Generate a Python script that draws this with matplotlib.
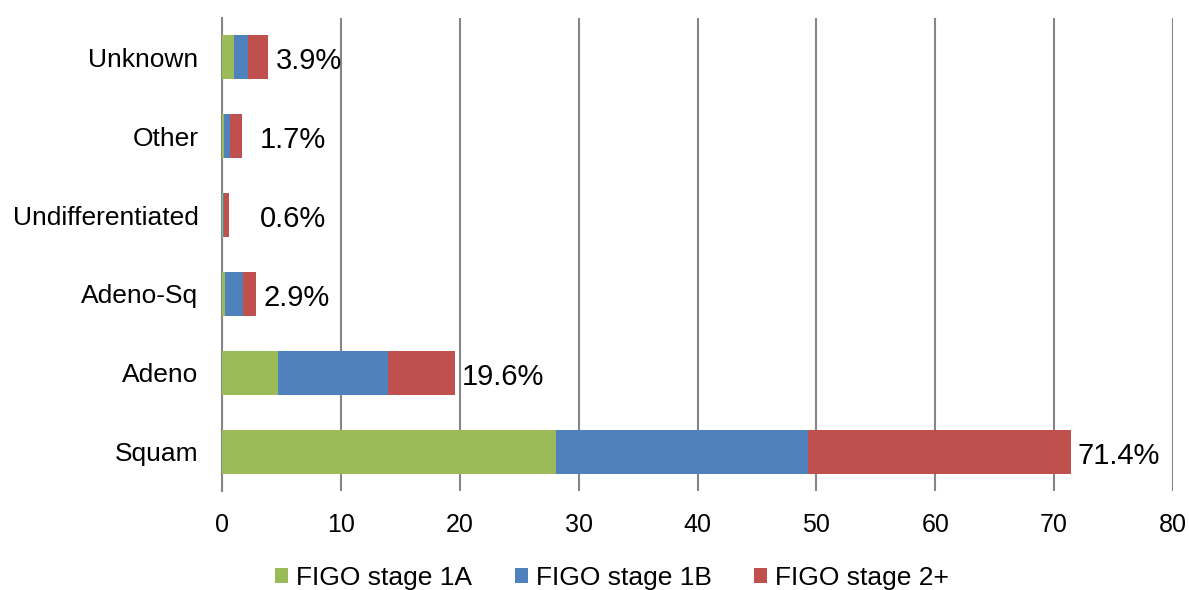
import matplotlib

matplotlib.use("Agg")
import matplotlib.pyplot as plt
import numpy as np

plt.rcParams["font.family"] = ["Liberation Sans", "DejaVu Sans"]

# histology groups, bottom to top
categories = ["Squam", "Adeno", "Adeno-Sq", "Undifferentiated", "Other", "Unknown"]
stage_1a = [28.1, 4.7, 0.25, 0.05, 0.2, 1.0]
stage_1b = [21.2, 9.3, 1.55, 0.15, 0.5, 1.2]
stage_2p = [22.1, 5.6, 1.1, 0.4, 1.0, 1.7]
totals = [71.4, 19.6, 2.9, 0.6, 1.7, 3.9]

series = [
    ("FIGO stage 1A", stage_1a, "#9BBB59"),
    ("FIGO stage 1B", stage_1b, "#4F81BD"),
    ("FIGO stage 2+", stage_2p, "#C0504D"),
]

fig = plt.figure(figsize=(11.89, 5.90), dpi=100)
ax = fig.add_axes([222 / 1189, 1 - 491 / 590, (1173 - 222) / 1189, (491 - 18) / 590])

y = np.arange(len(categories))
left = np.zeros(len(categories))
for name, vals, color in series:
    ax.barh(y, vals, left=left, height=0.56, color=color, label=name, zorder=3)
    left += np.array(vals)

# total share printed just past each bar (small bars get a minimum offset)
for yi, tot in zip(y, totals):
    ax.text(max(tot, 2.6) + 0.6, yi - 0.05, f"{tot:.1f}%", va="center", ha="left",
            fontsize=21, color="black", zorder=4)

ax.set_xlim(0, 80)
ax.set_ylim(-0.5, len(categories) - 0.5)
ax.set_xticks(np.arange(0, 81, 10))
ax.set_yticks(y)
ax.set_yticklabels(categories)
ax.tick_params(axis="x", length=0, pad=16, labelsize=18)
ax.tick_params(axis="y", length=0, pad=17, labelsize=19)
ax.grid(axis="x", color="#868686", lw=1.5, zorder=0)
for side in ("top", "right", "bottom"):
    ax.spines[side].set_visible(False)
ax.spines["left"].set_color("#868686")
ax.spines["left"].set_linewidth(1.5)

fig.legend(loc="center", bbox_to_anchor=(612 / 1189, 1 - 578 / 590), ncol=3,
           frameon=False, fontsize=19, handlelength=0.5, handleheight=0.5,
           handletextpad=0.3, columnspacing=1.6)

fig.savefig("out.png", dpi=100)
